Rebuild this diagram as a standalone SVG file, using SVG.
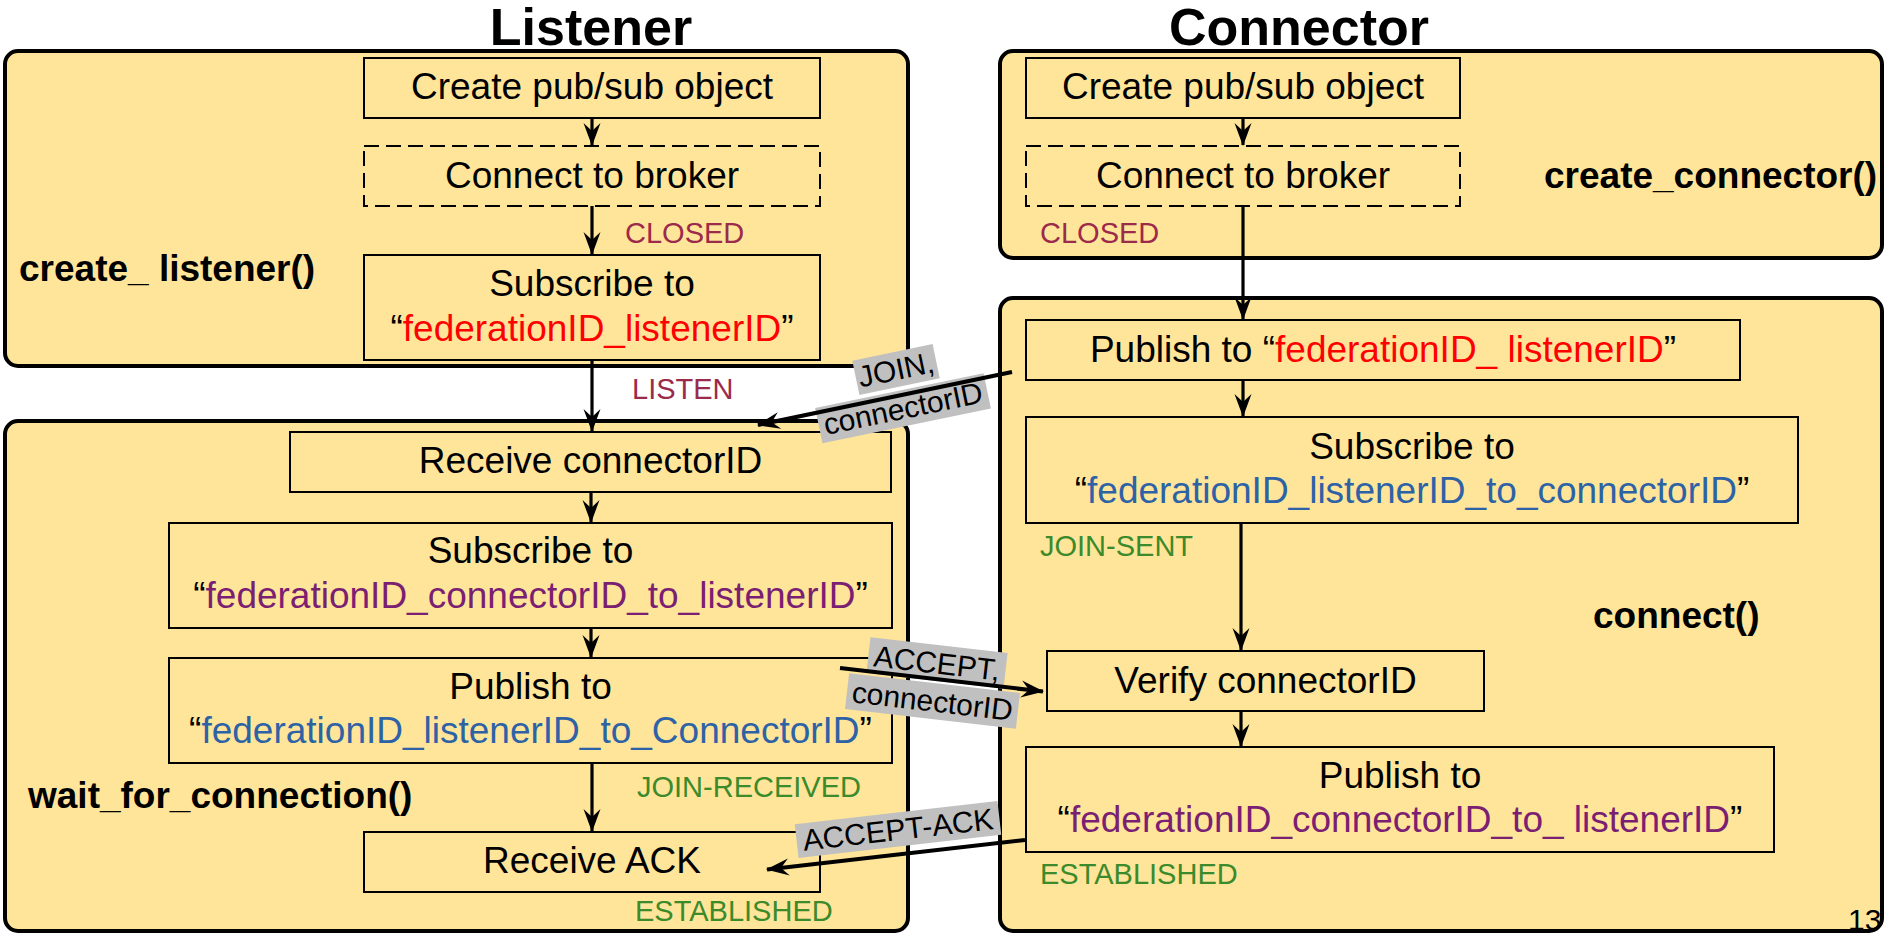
<svg xmlns="http://www.w3.org/2000/svg" width="1884" height="935" viewBox="0 0 1884 935">
  <style>
    text { font-family: "Liberation Sans", Arial, sans-serif; }
    .title { font-size: 52px; font-weight: bold; text-anchor: middle; }
    .fn { font-size: 37px; font-weight: bold; }
    .panel { fill: #FFE599; stroke: #000; stroke-width: 4; }
    .node { fill: none; stroke: #000; stroke-width: 2; }
    .dashed { stroke-dasharray: 15 7; }
    .lbl { font-size: 37px; text-anchor: middle; fill: #000; }
    .state { font-size: 29px; }
    .closed { fill: #9B2A4B; }
    .ok { fill: #3B8A2B; }
    .red { fill: #FF0000; }
    .blue { fill: #2D62A6; }
    .purple { fill: #7A1F72; }
    .flow { stroke: #000; stroke-width: 3.2; fill: none; marker-end: url(#head); }
    .msg { stroke: #000; stroke-width: 4; fill: none; marker-end: url(#head); }
    .tag rect { fill: #C0C0C0; }
    .tag text { font-size: 30px; text-anchor: middle; fill: #000; }
  </style>
  <defs>
    <marker id="head" markerUnits="userSpaceOnUse" viewBox="-24 -10 26 20" markerWidth="26" markerHeight="20" refX="0" refY="0" orient="auto" overflow="visible">
      <path d="M1,0 L-22,-8.5 L-14,0 L-22,8.5 Z" fill="#000"/>
    </marker>
  </defs>

  <rect width="1884" height="935" fill="#fff"/>

  <!-- column titles -->
  <text class="title" x="591" y="45">Listener</text>
  <text class="title" x="1299" y="45">Connector</text>

  <!-- function panels -->
  <g id="panel-create-listener">
    <rect class="panel" x="5" y="51" width="903" height="315" rx="13"/>
    <text class="fn" x="19" y="281">create_ listener()</text>
  </g>
  <g id="panel-wait-for-connection">
    <rect class="panel" x="5" y="421" width="903" height="510" rx="13"/>
    <text class="fn" x="28" y="808">wait_for_connection()</text>
  </g>
  <g id="panel-create-connector">
    <rect class="panel" x="1000" y="51" width="882" height="207" rx="13"/>
    <text class="fn" x="1544" y="188">create_connector()</text>
  </g>
  <g id="panel-connect">
    <rect class="panel" x="1000" y="298" width="882" height="633" rx="13"/>
    <text class="fn" x="1593" y="628">connect()</text>
  </g>

  <!-- listener steps -->
  <g id="l-create">
    <rect class="node" x="364" y="58" width="456" height="60"/>
    <text class="lbl" x="592" y="99">Create pub/sub object</text>
  </g>
  <g id="l-broker">
    <rect class="node dashed" x="364" y="146" width="456" height="60"/>
    <text class="lbl" x="592" y="188">Connect to broker</text>
  </g>
  <g id="l-subscribe">
    <rect class="node" x="364" y="255" width="456" height="105"/>
    <text class="lbl" x="592" y="296">Subscribe to</text>
    <text class="lbl" x="592" y="341">“<tspan class="red">federationID_listenerID</tspan>”</text>
  </g>
  <g id="l-receive-id">
    <rect class="node" x="290" y="432" width="601" height="60"/>
    <text class="lbl" x="590.5" y="473">Receive connectorID</text>
  </g>
  <g id="l-subscribe-c2l">
    <rect class="node" x="169" y="523" width="723" height="105"/>
    <text class="lbl" x="530.5" y="563">Subscribe to</text>
    <text class="lbl" x="530.5" y="608">“<tspan class="purple">federationID_connectorID_to_listenerID</tspan>”</text>
  </g>
  <g id="l-publish-l2c">
    <rect class="node" x="169" y="658" width="723" height="105"/>
    <text class="lbl" x="530.5" y="699">Publish to</text>
    <text class="lbl" x="530.5" y="743">“<tspan class="blue">federationID_listenerID_to_ConnectorID</tspan>”</text>
  </g>
  <g id="l-receive-ack">
    <rect class="node" x="364" y="832" width="456" height="60"/>
    <text class="lbl" x="592" y="873">Receive ACK</text>
  </g>

  <!-- connector steps -->
  <g id="c-create">
    <rect class="node" x="1026" y="58" width="434" height="60"/>
    <text class="lbl" x="1243" y="99">Create pub/sub object</text>
  </g>
  <g id="c-broker">
    <rect class="node dashed" x="1026" y="146" width="434" height="60"/>
    <text class="lbl" x="1243" y="188">Connect to broker</text>
  </g>
  <g id="c-publish-join">
    <rect class="node" x="1026" y="320" width="714" height="60"/>
    <text class="lbl" x="1383" y="362">Publish to “<tspan class="red">federationID_ listenerID</tspan>”</text>
  </g>
  <g id="c-subscribe-l2c">
    <rect class="node" x="1026" y="417" width="772" height="106"/>
    <text class="lbl" x="1412" y="459">Subscribe to</text>
    <text class="lbl" x="1412" y="503">“<tspan class="blue">federationID_listenerID_to_connectorID</tspan>”</text>
  </g>
  <g id="c-verify">
    <rect class="node" x="1047" y="651" width="437" height="60"/>
    <text class="lbl" x="1265.5" y="693">Verify connectorID</text>
  </g>
  <g id="c-publish-c2l">
    <rect class="node" x="1026" y="747" width="748" height="105"/>
    <text class="lbl" x="1400" y="788">Publish to</text>
    <text class="lbl" x="1400" y="832">“<tspan class="purple">federationID_connectorID_to_ listenerID</tspan>”</text>
  </g>

  <!-- state names -->
  <g id="states" class="state">
    <text class="state closed" x="625" y="243">CLOSED</text>
    <text class="state closed" x="632" y="399">LISTEN</text>
    <text class="state ok" x="637" y="797">JOIN-RECEIVED</text>
    <text class="state ok" x="635" y="921">ESTABLISHED</text>
    <text class="state closed" x="1040" y="243">CLOSED</text>
    <text class="state ok" x="1040" y="556">JOIN-SENT</text>
    <text class="state ok" x="1040" y="884">ESTABLISHED</text>
  </g>

  <!-- connectors -->
  <g id="connectors">
    <line class="flow" x1="592" y1="118" x2="592" y2="145"/>
    <line class="flow" x1="592" y1="206" x2="592" y2="254"/>
    <line class="flow" x1="592" y1="360" x2="592" y2="431"/>
    <line class="flow" x1="591" y1="492" x2="591" y2="522"/>
    <line class="flow" x1="591" y1="628" x2="591" y2="657"/>
    <line class="flow" x1="592" y1="763" x2="592" y2="831"/>

    <line class="flow" x1="1243" y1="118" x2="1243" y2="145"/>
    <line class="flow" x1="1243" y1="206" x2="1243" y2="319"/>
    <line class="flow" x1="1243" y1="380" x2="1243" y2="416"/>
    <line class="flow" x1="1241" y1="523" x2="1241" y2="650"/>
    <line class="flow" x1="1241" y1="711" x2="1241" y2="746"/>

    <!-- message tags -->
    <g class="tag" transform="translate(896 369.5) rotate(-11.7)">
      <rect x="-41" y="-17.5" width="82" height="35"/>
      <text x="0" y="10.5">JOIN,</text>
    </g>
    <g class="tag" transform="translate(903 408.3) rotate(-11.7)">
      <rect x="-86" y="-18" width="172" height="36"/>
      <text x="0" y="10.5">connectorID</text>
    </g>
    <g class="tag" transform="translate(937 663) rotate(6.6)">
      <rect x="-69" y="-18" width="138" height="36"/>
      <text x="0" y="10.5">ACCEPT,</text>
    </g>
    <g class="tag" transform="translate(932.5 701) rotate(6.6)">
      <rect x="-86" y="-18" width="172" height="36"/>
      <text x="0" y="10.5">connectorID</text>
    </g>
    <g class="tag" transform="translate(898 829.5) rotate(-6.5)">
      <rect x="-102" y="-17" width="204" height="34"/>
      <text x="0" y="10.5">ACCEPT-ACK</text>
    </g>

    <line class="msg" x1="1012" y1="372" x2="758" y2="425"/>
    <line class="msg" x1="840" y1="668" x2="1043" y2="691.5"/>
    <line class="msg" x1="1025" y1="840" x2="767" y2="869.5"/>
  </g>

  <!-- slide number -->
  <text x="1848" y="930" font-size="30">13</text>
</svg>
